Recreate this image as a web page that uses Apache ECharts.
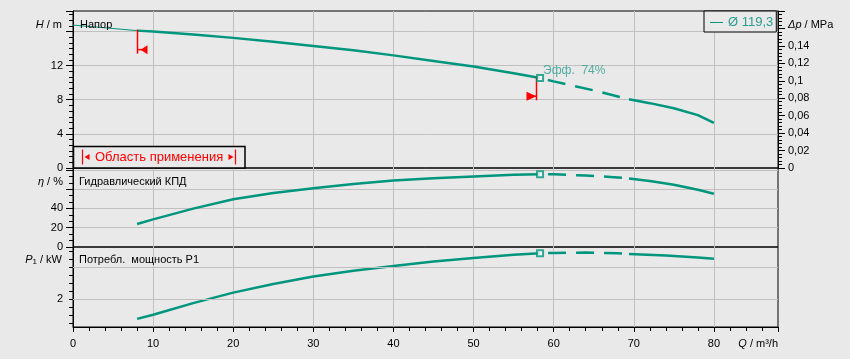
<!DOCTYPE html>
<html><head><meta charset="utf-8">
<script src="https://cdn.jsdelivr.net/npm/echarts@6/dist/echarts.min.js"></script>
<style>html,body{margin:0;padding:0;background:#e9e9e9}#c{width:850px;height:359px}</style>
</head><body><div id="c"></div>
<script>
// ---- data ----
const qH  = [0, 5, 8, 10, 15, 20, 25, 30, 35, 40, 45, 50, 55, 58.3, 60, 65, 69.4, 72, 75, 78, 80];
const hH  = [16.75, 16.35, 16.1, 16.0, 15.65, 15.25, 14.8, 14.3, 13.8, 13.2, 12.55, 11.9, 11.1, 10.55, 10.15, 9.1, 8.05, 7.6, 7.0, 6.2, 5.3];
const qEta = [8, 10, 15, 20, 25, 30, 35, 40, 45, 50, 55, 58.3, 60, 64, 67.5, 69.4, 72, 75, 78, 80];
const eta  = [23.8, 28.7, 39.8, 49.6, 56, 61.1, 65.5, 69.1, 71.4, 73.3, 74.9, 75.6, 75.4, 74.2, 72.5, 71.2, 68.5, 64.6, 59.5, 55.2];
const qP  = [8, 10, 15, 20, 25, 30, 35, 40, 45, 50, 55, 58.3, 60, 64, 68, 69.4, 74, 78, 80];
const p1  = [1.38, 1.51, 1.87, 2.2, 2.47, 2.7, 2.88, 3.03, 3.17, 3.28, 3.38, 3.43, 3.44, 3.45, 3.43, 3.41, 3.36, 3.30, 3.26];
const Q_RANGE_START = 8;      // start of application range
const Q_DUTY = 58.3;          // best-efficiency point
const Q_DASH_END = 69.4;      // end of dashed part
const rangeQ = [8, 57.8];
const rangeH = [16.1, 10.63];
const rangeDir = [1, -1];
const xTicksLabelStep = 10;
const pGridValues = [2, 3];
const pLabelValues = [2];
const pTickValues = [1.25, 1.5, 1.75, 2, 2.25, 2.5, 2.75, 3, 3.25, 3.5];
const legendName = 'Ø 119,3';
const effLabel = 'Эфф.  74%';

const TEAL = '#00967d', TEXTTEAL = '#2a9d8f', GRIDC = '#c0c0c0', BG = '#e9e9e9', RED = '#ff0000';
const FONT = '"Liberation Sans", Arial, sans-serif';

function seg(qs, vs, a, b) {
  const out = [];
  for (let i = 0; i < qs.length; i++) if (qs[i] >= a - 1e-9 && qs[i] <= b + 1e-9) out.push([qs[i], vs[i]]);
  return out;
}
function valAt(qs, vs, q) { return vs[qs.indexOf(q)]; }

function curve(name, qs, vs, xi, yi, withThin) {
  const base = { type: 'line', name: name, xAxisIndex: xi, yAxisIndex: yi, symbol: 'none', silent: true, z: 3, color: TEAL };
  const arr = [];
  if (withThin) arr.push(Object.assign({}, base, { data: seg(qs, vs, 0, Q_RANGE_START), lineStyle: { color: TEAL, width: 1 } }));
  arr.push(Object.assign({}, base, { data: seg(qs, vs, Q_RANGE_START, Q_DUTY), lineStyle: { color: TEAL, width: 2.5 } }));
  arr.push(Object.assign({}, base, { data: seg(qs, vs, Q_DUTY, Q_DASH_END), lineStyle: { color: TEAL, width: 2.5, type: [18, 10], dashOffset: 20 } }));
  arr.push(Object.assign({}, base, { data: seg(qs, vs, Q_DASH_END, 100), lineStyle: { color: TEAL, width: 2.5 } }));
  arr.push({ type: 'scatter', name: name + '_bep', xAxisIndex: xi, yAxisIndex: yi, z: 6, silent: true,
    symbol: 'rect', symbolSize: 6,
    itemStyle: { color: '#ffffff', borderColor: TEAL, borderWidth: 2 },
    data: [[Q_DUTY, valAt(qs, vs, Q_DUTY)]] });
  return arr;
}

const axisFont = { color: '#000', fontSize: 11, fontFamily: FONT };

function xAxis(i, showAll) {
  return {
    type: 'value', gridIndex: i, min: 0, max: 88, interval: xTicksLabelStep,
    axisLine: { show: showAll, lineStyle: { color: '#000', width: 1 } },
    axisTick: { show: showAll, length: 5, lineStyle: { color: '#000' } },
    minorTick: { show: showAll, splitNumber: 5, length: 4, lineStyle: { color: '#000' } },
    axisLabel: { show: showAll, margin: 11, showMaxLabel: false, ...axisFont,
      formatter: v => (Math.abs(v % 10) < 1e-9 && v <= 80) ? String(v) : '' },
    splitLine: { show: true, showMinLine: false, showMaxLine: false, lineStyle: { color: GRIDC, width: 1 } }
  };
}

function yAxis(gi, min, max, interval, maxLabel, minorSplit, fmt, pos) {
  return {
    type: 'value', gridIndex: gi, min: min, max: max, interval: interval, position: pos || 'left',
    axisLine: { show: true, lineStyle: { color: '#000', width: 1 } },
    axisTick: { show: true, length: 7, lineStyle: { color: '#000' } },
    minorTick: { show: true, splitNumber: minorSplit, length: 4, lineStyle: { color: '#000' } },
    axisLabel: { margin: 10, ...axisFont, formatter: v => (v > maxLabel + 1e-9 ? '' : fmt(v)) },
    splitLine: { show: pos !== 'right', showMinLine: false, showMaxLine: false, lineStyle: { color: GRIDC, width: 1 } }
  };
}

const chart = echarts.init(document.getElementById('c'));

const series = [].concat(
  curve(legendName, qH, hH, 0, 0, true),
  curve('eta', qEta, eta, 1, 2, false),
  curve('p1', qP, p1, 2, 3, false)
);
// label for the duty point
series[4].label = { show: true, position: 'right', distance: 0, offset: [-1, -7.5], formatter: effLabel,
  color: TEXTTEAL, fontSize: 12, fontFamily: FONT };
// P1 gridlines
series.push({ type: 'line', name: 'pgrid', xAxisIndex: 2, yAxisIndex: 3, data: [], z: 1, silent: true,
  markLine: { silent: true, symbol: 'none', animation: false, label: { show: false },
    lineStyle: { color: GRIDC, width: 1, type: 'solid' },
    data: pGridValues.map(v => ({ yAxis: v })) } });
// application-range limit markers on H curve
series.push({
  type: 'custom', name: 'range', xAxisIndex: 0, yAxisIndex: 0, z: 5, silent: true,
  data: rangeQ.map((q, i) => [q, rangeH[i], rangeDir[i]]),
  renderItem: function (params, api) {
    const p = api.coord([api.value(0), api.value(1)]);
    const s = api.value(2);
    const x = Math.round(p[0]) + 0.5, y = p[1];
    const ty = y + 19;
    const tip = s > 0 ? x + 3 : x;
    return { type: 'group', children: [
      { type: 'line', shape: { x1: x, y1: y - 1, x2: x, y2: y + 23 }, style: { stroke: RED, lineWidth: 1.5 } },
      { type: 'line', shape: { x1: x, y1: ty, x2: x + s * 5, y2: ty }, style: { stroke: RED, lineWidth: 1.5 } },
      { type: 'polygon', shape: { points: [[tip, ty], [x + s * 10, ty - 4.5], [x + s * 10, ty + 4.5]] }, style: { fill: RED } }
    ] };
  }
});

const txt = (t, x, y, align, extra) => Object.assign({ type: 'text', z: 100, silent: true,
  style: Object.assign({ text: t, x: x, y: y, align: align, verticalAlign: 'middle', fill: '#000', font: '11px ' + FONT,
    rich: { i: { fontStyle: 'italic', fontSize: 11, fontFamily: FONT, fill: '#000' },
            s: { fontSize: 8, fontFamily: FONT, fill: '#000', verticalAlign: 'bottom' },
            n: { fontSize: 11, fontFamily: FONT, fill: '#000' } } }, extra || {}) });

const option = {
  animation: false,
  backgroundColor: BG,
  grid: [
    { left: 73, right: 72, top: 11, height: 157, show: true, borderColor: '#000', borderWidth: 1, backgroundColor: 'transparent' },
    { left: 73, right: 72, top: 168, height: 79, show: true, borderColor: '#000', borderWidth: 1, backgroundColor: 'transparent' },
    { left: 73, right: 72, top: 247, height: 80, show: true, borderColor: '#000', borderWidth: 1, backgroundColor: 'transparent' }
  ],
  legend: { data: [legendName], left: 704, top: 11, padding: [5, 3, 3, 6], icon: 'rect', itemWidth: 13, itemHeight: 1,
    borderColor: '#000', borderWidth: 1, backgroundColor: BG, selectedMode: false,
    textStyle: { color: TEXTTEAL, fontSize: 13, fontFamily: FONT } },
  xAxis: [xAxis(0, false), xAxis(1, false), xAxis(2, true)],
  yAxis: [
    yAxis(0, 0, 18.4, 4, 12, 6, v => String(v)),
    yAxis(0, 0, 0.18, 0.02, 0.14, 5, v => String(+v.toFixed(2)).replace('.', ','), 'right'),
    yAxis(1, 0, 82, 20, 40, 3, v => String(v)),
    {
      type: 'value', gridIndex: 2, min: 1.125, max: 3.625,
      axisLine: { show: true, lineStyle: { color: '#000', width: 1 } },
      axisTick: { show: true, length: 4, customValues: pTickValues, lineStyle: { color: '#000' } },
      axisLabel: { margin: 10, ...axisFont, customValues: pLabelValues,
        formatter: v => (pLabelValues.some(l => Math.abs(l - v) < 1e-9) ? String(v) : '') },
      splitLine: { show: false }
    }
  ],
  series: series,
  graphic: [
    txt('Напор', 80, 24.5, 'left'),
    txt('Гидравлический КПД', 79, 181.5, 'left'),
    txt('Потребл.  мощность P1', 79, 260, 'left'),
    txt('{i|H}{n| / m}', 62, 24.5, 'right'),
    txt('{i|η}{n| / %}', 63, 181.5, 'right'),
    txt('{i|P}{s|1}{n| / kW}', 62, 260, 'right'),
    txt('{i|Δp}{n| / MPa}', 788, 24.5, 'left'),
    txt('{i|Q}{n| / m³/h}', 778, 344, 'right'),
    { type: 'group', z: 100, silent: true, children: [
      { type: 'rect', z: 100, shape: { x: 73.5, y: 146.5, width: 171.5, height: 21.5 }, style: { fill: BG, stroke: '#000', lineWidth: 1.5 } },
      { type: 'line', z: 101, shape: { x1: 82.5, y1: 149.5, x2: 82.5, y2: 164.5 }, style: { stroke: RED, lineWidth: 1.2 } },
      { type: 'polygon', z: 101, shape: { points: [[84.5, 157], [89.5, 154], [89.5, 160]] }, style: { fill: RED } },
      { type: 'text', z: 101, style: { text: 'Область применения', x: 95, y: 157, align: 'left', verticalAlign: 'middle', fill: RED, font: '13px ' + FONT } },
      { type: 'polygon', z: 101, shape: { points: [[233.5, 157], [228.5, 154], [228.5, 160]] }, style: { fill: RED } },
      { type: 'line', z: 101, shape: { x1: 235.5, y1: 149.5, x2: 235.5, y2: 164.5 }, style: { stroke: RED, lineWidth: 1.2 } }
    ] }
  ]
};
chart.setOption(option);
</script></body></html>
